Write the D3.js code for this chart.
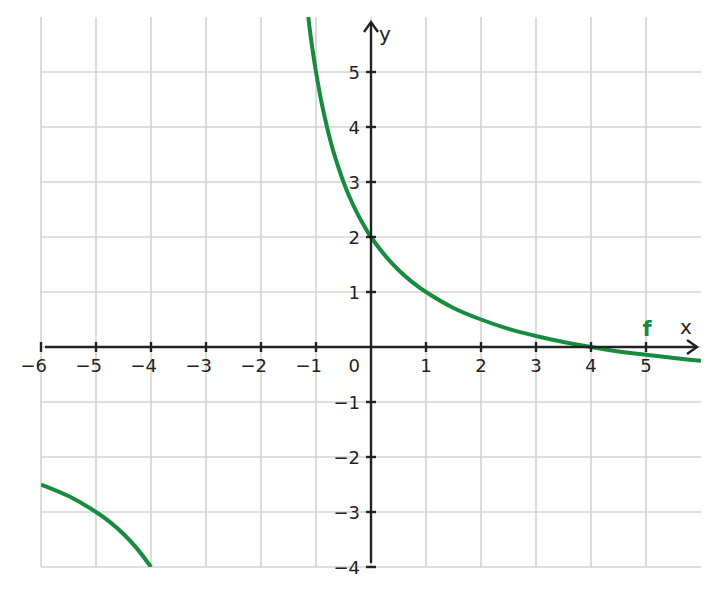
<!DOCTYPE html>
<html><head><meta charset="utf-8">
<script src="https://cdn.jsdelivr.net/npm/d3@7"></script>
<style>body{margin:0;background:#fff}svg{display:block}text{font-family:"DejaVu Sans",sans-serif}</style>
</head><body>
<svg id="c" width="719" height="595"></svg>
<script>
const xTicks = [-6,-5,-4,-3,-2,-1,1,2,3,4,5];
const yTicks = [-4,-3,-2,-1,1,2,3,4,5];
const xGrid = [-6,-5,-4,-3,-2,-1,0,1,2,3,4,5];
const yGrid = [-4,-3,-2,-1,0,1,2,3,4,5];
const seriesName = "f";
// right branch points
const rightX = [-1.14,-1.1,-1.05,-1,-0.9,-0.8,-0.7,-0.6,-0.5,-0.4,-0.25,-0.1,0,0.25,0.5,0.75,1,1.5,2,2.5,3,3.5,4,4.5,5,5.5,6];
const rightY = [6.0,5.67,5.32,5,4.45,4.0,3.61,3.29,3.0,2.75,2.43,2.16,2,1.67,1.4,1.18,1,0.71,0.5,0.33,0.2,0.09,0,-0.08,-0.14,-0.2,-0.25];
// left branch points
const leftX = [-6,-5.5,-5,-4.75,-4.5,-4.25,-4];
const leftY = [-2.5,-2.71,-3,-3.18,-3.4,-3.67,-4];

const svg = d3.select("#c");
const x = d3.scaleLinear().domain([-6,6]).range([41,701]);
const y = d3.scaleLinear().domain([-4,6]).range([567,17]);
const gridC = "#d4d4d4", axC = "#222", green = "#178c3f";

const g = svg.append("g");
g.selectAll(".vg").data(xGrid).join("line")
  .attr("x1",d=>x(d)).attr("x2",d=>x(d)).attr("y1",y(6)).attr("y2",y(-4))
  .attr("stroke",gridC).attr("stroke-width",1.6);
g.selectAll(".hg").data(yGrid).join("line")
  .attr("x1",x(-6)).attr("x2",x(6)).attr("y1",d=>y(d)).attr("y2",d=>y(d))
  .attr("stroke",gridC).attr("stroke-width",1.6);

// curve
svg.append("clipPath").attr("id","clip").append("rect")
  .attr("x",x(-6)).attr("y",y(6)).attr("width",x(6)-x(-6)).attr("height",y(-4)-y(6));
const line = d3.line().x(d=>x(d[0])).y(d=>y(d[1])).curve(d3.curveCatmullRom.alpha(0.5));
const cg = svg.append("g").attr("clip-path","url(#clip)");
[[rightX,rightY],[leftX,leftY]].forEach(([xs,ys])=>{
  cg.append("path").datum(xs.map((v,i)=>[v,ys[i]])).attr("d",line)
    .attr("fill","none").attr("stroke",green).attr("stroke-width",4);
});

// axes
const ax = svg.append("g").attr("stroke",axC).attr("stroke-width",2.4).attr("fill","none");
ax.append("line").attr("x1",x(-6)+4).attr("x2",x(6)-4).attr("y1",y(0)).attr("y2",y(0));
ax.append("line").attr("x1",x(0)).attr("x2",x(0)).attr("y1",y(6)+5).attr("y2",y(-4)-4);
ax.append("path").attr("d",`M${x(6)-14},${y(0)-7}L${x(6)-4},${y(0)}L${x(6)-14},${y(0)+7}`)
  .attr("stroke-linejoin","miter");
ax.append("path").attr("d",`M${x(0)-7},${y(6)+15}L${x(0)},${y(6)+5}L${x(0)+7},${y(6)+15}`);
ax.selectAll(".xt").data(xTicks).join("line")
  .attr("x1",d=>x(d)).attr("x2",d=>x(d)).attr("y1",y(0)-5).attr("y2",y(0)+5);
ax.selectAll(".yt").data(yTicks).join("line")
  .attr("x1",x(0)-5).attr("x2",x(0)+5).attr("y1",d=>y(d)).attr("y2",d=>y(d));

const fmt = d => d<0 ? "\u2212"+Math.abs(d) : String(d);
const tg = svg.append("g").attr("fill",axC).style("font-size","18px");
tg.selectAll(".xl").data(xTicks).join("text")
  .attr("x",d=>d<0 ? x(d)+6 : x(d)).attr("y",y(0)+25)
  .attr("text-anchor",d=>d<0?"end":"middle").text(fmt);
tg.selectAll(".yl").data(yTicks).join("text")
  .attr("x",x(0)-11).attr("y",d=>y(d)+6.5).attr("text-anchor","end").text(fmt);
tg.append("text").attr("x",x(0)-11).attr("y",y(0)+25).attr("text-anchor","end").text("0");
tg.append("text").attr("x",686).attr("y",y(0)-13).attr("text-anchor","middle").style("font-size","20px").text("x");
tg.append("text").attr("x",x(0)+8).attr("y",y(6)+24).style("font-size","20px").text("y");
svg.append("text").attr("x",x(5)+1).attr("y",y(0)-11).attr("text-anchor","middle")
  .attr("fill",green).style("font-size","21px").style("font-weight","bold").text(seriesName);
</script>
</body></html>
